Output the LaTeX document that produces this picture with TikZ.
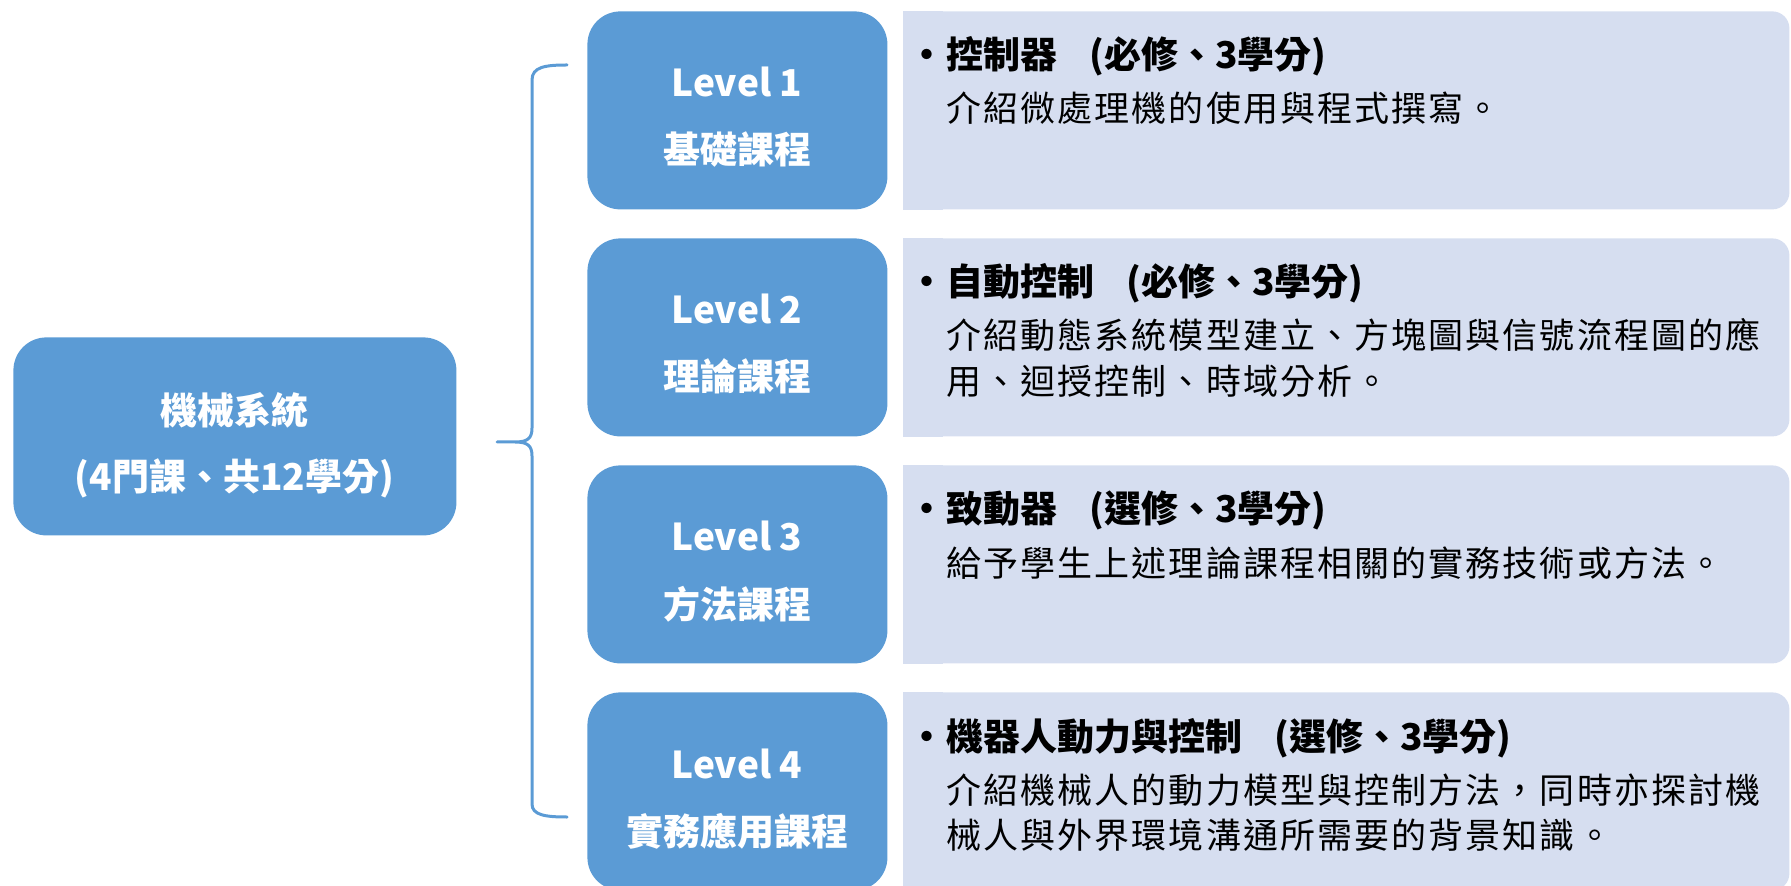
\documentclass[tikz,border=0pt]{standalone}
\usepackage{fontspec}
\setmainfont{Noto Sans CJK TC}
\newfontfamily\descfont[LetterSpace=6]{Noto Sans CJK TC}
\usetikzlibrary{calc}
\definecolor{boxblue}{RGB}{91,155,213}
\definecolor{panelc}{RGB}{214,222,240}
\begin{document}
\begin{tikzpicture}[x=0.5pt,y=-0.5pt,
  mainbox/.style={fill=boxblue, draw=none, rounded corners=16.5pt, inner sep=0pt, anchor=north west, minimum height=99pt},
  lvbox/.style={mainbox, minimum width=150pt},
  panel/.style={fill=panelc, draw=none, rounded corners=8.5pt, inner sep=0pt, anchor=north west, minimum width=443pt, minimum height=99pt},
  wtext/.style={text=white, font=\fontsize{18.5pt}{23pt}\selectfont\bfseries, anchor=base, inner sep=0pt},
  head/.style={font=\fontsize{18.5pt}{22pt}\selectfont\bfseries, anchor=base west, inner sep=0pt},
  bul/.style={font=\fontsize{18.5pt}{22pt}\selectfont\bfseries, anchor=base, inner sep=0pt},
  desc/.style={font=\descfont\fontsize{17.5pt}{21pt}\selectfont, anchor=base west, inner sep=0pt},
  bracestyle/.style={draw=boxblue, line width=1.5pt, line cap=round, line join=round}]
\useasboundingbox (0,0) rectangle (1791,886);
\clip (0,0) rectangle (1791,886);

% main system box
\node[mainbox, minimum width=221.5pt] (sys) at (13,337) {};
\node[wtext] (sysa) at (234.5,425) {機械系統};
\node[wtext] (sysb) at (234.5,490.5) {(4門課、共12學分)};

% level boxes
\node[lvbox] (lv1) at (587,11) {};
\node[lvbox] (lv2) at (587,238) {};
\node[lvbox] (lv3) at (587,465) {};
\node[lvbox] (lv4) at (587,692) {};
\node[wtext] (lv1a) at (737,97) {Level 1};
\node[wtext] (lv1b) at (737,164) {基礎課程};
\node[wtext] (lv2a) at (737,324) {Level 2};
\node[wtext] (lv2b) at (737,391) {理論課程};
\node[wtext] (lv3a) at (737,551) {Level 3};
\node[wtext] (lv3b) at (737,618) {方法課程};
\node[wtext] (lv4a) at (737,778) {Level 4};
\node[wtext] (lv4b) at (737,845) {實務應用課程};

% panels
\foreach \n in {1,2,3,4}{
  \pgfmathsetmacro{\t}{11+227*(\n-1)}
  \node[panel] (pn\n) at (903,\t) {};
  \fill[panelc] (pn\n.north west) rectangle ($(pn\n.south west)+(40,0)$);
}

% panel texts
\node[bul] (b1) at (927,69) {•};
\node[head] (h1) at (946,69) {控制器\hspace{16pt}(必修、3學分)};
\node[desc] (d1) at (946,122) {介紹微處理機的使用與程式撰寫。};

\node[bul] (b2) at (927,296) {•};
\node[head] (h2) at (946,296) {自動控制\hspace{16pt}(必修、3學分)};
\node[desc] (d2a) at (946,349) {介紹動態系統模型建立、方塊圖與信號流程圖的應};
\node[desc] (d2b) at (946,395) {用、迴授控制、時域分析。};

\node[bul] (b3) at (927,523) {•};
\node[head] (h3) at (946,523) {致動器\hspace{16pt}(選修、3學分)};
\node[desc] (d3) at (946,576) {給予學生上述理論課程相關的實務技術或方法。};

\node[bul] (b4) at (927,750) {•};
\node[head] (h4) at (946,750) {機器人動力與控制\hspace{16pt}(選修、3學分)};
\node[desc] (d4a) at (946,803) {介紹機械人的動力模型與控制方法，同時亦探討機};
\node[desc] (d4b) at (946,848) {械人與外界環境溝通所需要的背景知識。};

% brace
\coordinate (btop) at (567,65);
\coordinate (btip) at (497,442);
\coordinate (bbot) at (567,817);
\draw[bracestyle] (btop) .. controls (545,65) and (532,67) .. (532,80)
  -- (532,428) .. controls (532,438) and (528,442) .. (515,442) -- (btip)
  -- (515,442) .. controls (528,442) and (532,446) .. (532,456)
  -- (532,804) .. controls (532,815) and (545,817) .. (bbot);
\end{tikzpicture}
\end{document}
